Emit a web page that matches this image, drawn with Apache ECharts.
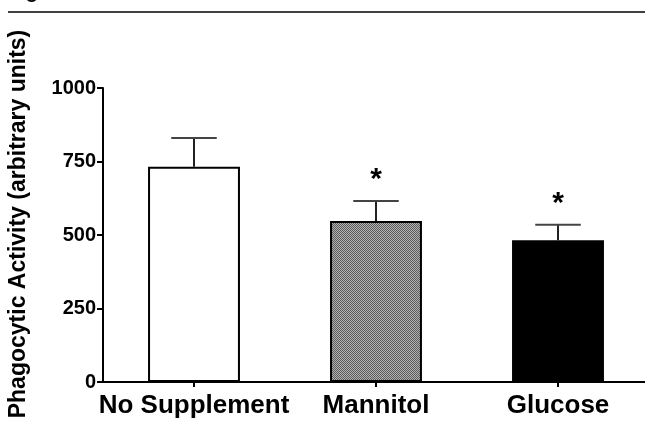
<!DOCTYPE html>
<html>
<head>
<meta charset="utf-8">
<script src="https://cdn.jsdelivr.net/npm/echarts@6/dist/echarts.min.js"></script>
<style>
html,body{margin:0;padding:0;background:#fff;}
#chart{width:645px;height:429px;}
</style>
</head>
<body>
<div id="chart"></div>
<script>
const categories = ['No Supplement', 'Mannitol', 'Glucose'];
const means = [732, 548, 482];
const errors = [98, 68, 53];
const significance = ['', '*', '*'];
const yTicks = [0, 250, 500, 750, 1000];
const yTitle = 'Phagocytic Activity (arbitrary units)';

const FONT = "'Liberation Sans', Arial, Helvetica, sans-serif";

// dotted grey pattern for Mannitol
const pc = document.createElement('canvas');
pc.width = 2; pc.height = 2;
const pctx = pc.getContext('2d');
pctx.fillStyle = '#b4b4b4'; pctx.fillRect(0,0,2,2);
pctx.fillStyle = '#5a5a5a'; pctx.fillRect(0,0,1,1); pctx.fillRect(1,1,1,1);

const fills = ['#ffffff', {image: pc, repeat: 'repeat'}, '#000000'];

const chart = echarts.init(document.getElementById('chart'), null, {renderer: 'canvas'});

chart.setOption({
  animation: false,
  backgroundColor: '#fff',
  grid: {left: 103, top: 88, width: 546, bottom: 47, containLabel: false, outerBoundsMode: 'none'},
  xAxis: {
    type: 'category',
    data: categories,
    axisLine: {lineStyle: {color: '#000', width: 2}},
    axisTick: {show: true, alignWithLabel: true, length: 5, lineStyle: {color: '#000', width: 2}},
    axisLabel: {color: '#000', fontFamily: FONT, fontWeight: 'bold', fontSize: 26, margin: 11, interval: 0}
  },
  yAxis: {
    type: 'value',
    min: 0, max: 1000, interval: 250,
    splitLine: {show: false},
    axisLine: {show: true, lineStyle: {color: '#000', width: 2}},
    axisTick: {show: true, length: 6, lineStyle: {color: '#000', width: 2}},
    axisLabel: {color: '#000', fontFamily: FONT, fontWeight: 'bold', fontSize: 20, margin: 7,
      formatter: v => yTicks.indexOf(v) >= 0 ? String(v) : ''}
  },
  graphic: [
    {type: 'line', shape: {x1: 8, y1: 12, x2: 645, y2: 12}, style: {stroke: '#000', lineWidth: 1.5}},
    {type: 'text', x: 8, y: 2, style: {text: 'Figure 5', font: 'bold 20px ' + FONT, fill: '#000', verticalAlign: 'bottom'}},
    {type: 'text', x: 19, y: 224, rotation: Math.PI / 2,
      style: {text: yTitle, font: 'bold 23px ' + FONT, fill: '#000', align: 'center', verticalAlign: 'middle'}}
  ],
  series: [
    {
      type: 'bar',
      barWidth: '50.5%',
      data: means.map((v, i) => ({value: v, itemStyle: {color: fills[i], borderColor: '#000', borderWidth: 2}})),
      z: 2
    },
    {
      type: 'custom',
      z: 3,
      data: means.map((v, i) => [i, v, v + errors[i]]),
      renderItem: function (params, api) {
        const i = api.value(0);
        const base = api.coord([i, api.value(1)]);
        const top = api.coord([i, api.value(2)]);
        const half = api.size([1, 0])[0] * 0.125;
        const children = [
          {type: 'line', shape: {x1: base[0], y1: base[1], x2: top[0], y2: top[1]}, style: {stroke: '#222', lineWidth: 2}},
          {type: 'line', shape: {x1: top[0] - half, y1: top[1], x2: top[0] + half, y2: top[1]}, style: {stroke: '#444', lineWidth: 2}}
        ];
        const sig = significance[params.dataIndex];
        if (sig) {
          children.push({type: 'text', x: top[0], y: top[1] - 6,
            style: {text: sig, font: 'bold 30px ' + FONT, fill: '#000', align: 'center', verticalAlign: 'bottom'}});
        }
        return {type: 'group', children: children};
      }
    }
  ]
});
</script>
</body>
</html>
